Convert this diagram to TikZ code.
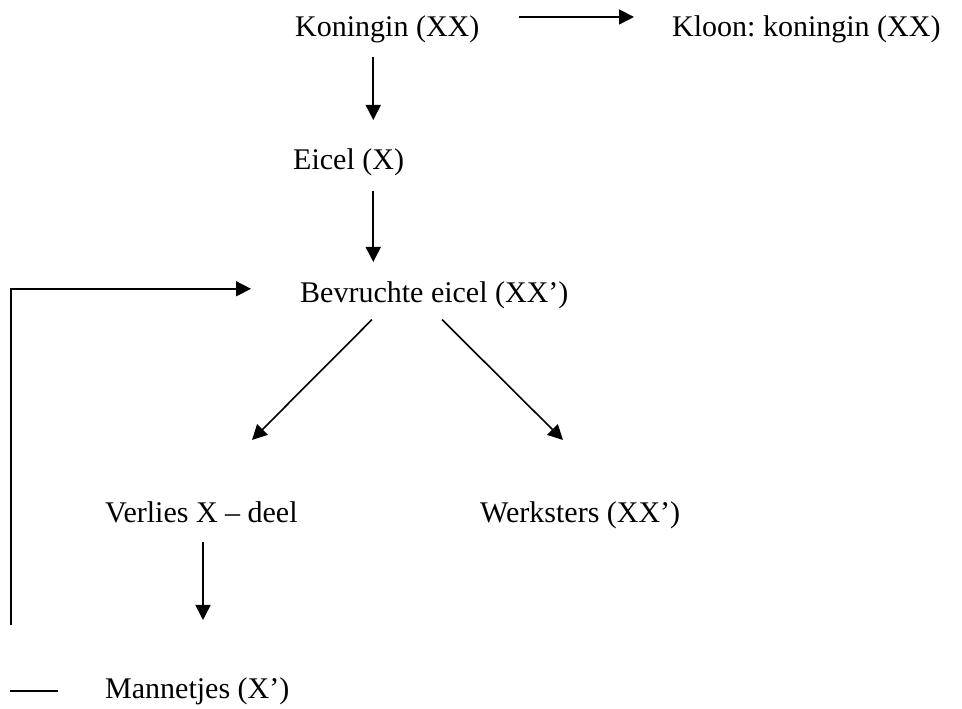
\documentclass[tikz,border=0pt]{standalone}
\usepackage{fontspec}
\setmainfont{Liberation Serif}
\usepackage{tikz}
\usetikzlibrary{arrows.meta}
\frenchspacing

\begin{document}
\begin{tikzpicture}[
  x=1pt, y=-1pt,
  lbl/.style={anchor=base west, inner sep=0pt, font=\fontsize{30}{36}\selectfont},
  ln/.style={line width=1.6pt},
  arr/.style={ln, -{Triangle[length=15pt,width=15pt]}}
]
\useasboundingbox (0,0) rectangle (962,709);
\node[lbl] (kon) at (295,37) {Koningin (XX)};
\node[lbl] (kloon) at (672,37) {Kloon: koningin (XX)};
\node[lbl] (eicel) at (293,169) {Eicel (X)};
\node[lbl] (bevr) at (300,302) {Bevruchte eicel (XX')};
\node[lbl] (verlies) at (105,522) {Verlies X -- deel};
\node[lbl] (werk) at (480,522) {Werksters (XX')};
\node[lbl] (mann) at (105,698) {Mannetjes (X')};
\coordinate (loop) at (11,625);
\coordinate (stub) at (10,691);
\draw[arr, shorten <=39pt, shorten >=38pt] ([yshift=-1pt]kon.north east) -- ([yshift=-1pt]kon.north east -| kloon.west);
\draw[arr, shorten <=13pt, shorten >=28pt] ([xshift=-14pt]kon.south) -- ([xshift=-14pt]kon.south |- eicel.north);
\draw[arr, shorten <=15pt, shorten >=19pt] ([xshift=-14pt]kon.south |- eicel.south) -- ([xshift=-14pt]kon.south |- bevr.north);
\draw[arr] ([xshift=72pt,yshift=-11pt]bevr.south west) -- ([xshift=147pt,yshift=61pt]verlies.north west);
\draw[arr] ([xshift=142pt,yshift=-11pt]bevr.south west) -- ([xshift=83pt,yshift=61pt]werk.north west);
\draw[arr, shorten <=19pt, shorten >=57pt] ([xshift=98pt]verlies.south west) -- ([xshift=98pt]verlies.south west |- mann.north);
\draw[arr] (loop) |- ([xshift=-49pt,yshift=6pt]bevr.west);
\draw[ln] (stub) -- ++(48,0);
\end{tikzpicture}
\end{document}
